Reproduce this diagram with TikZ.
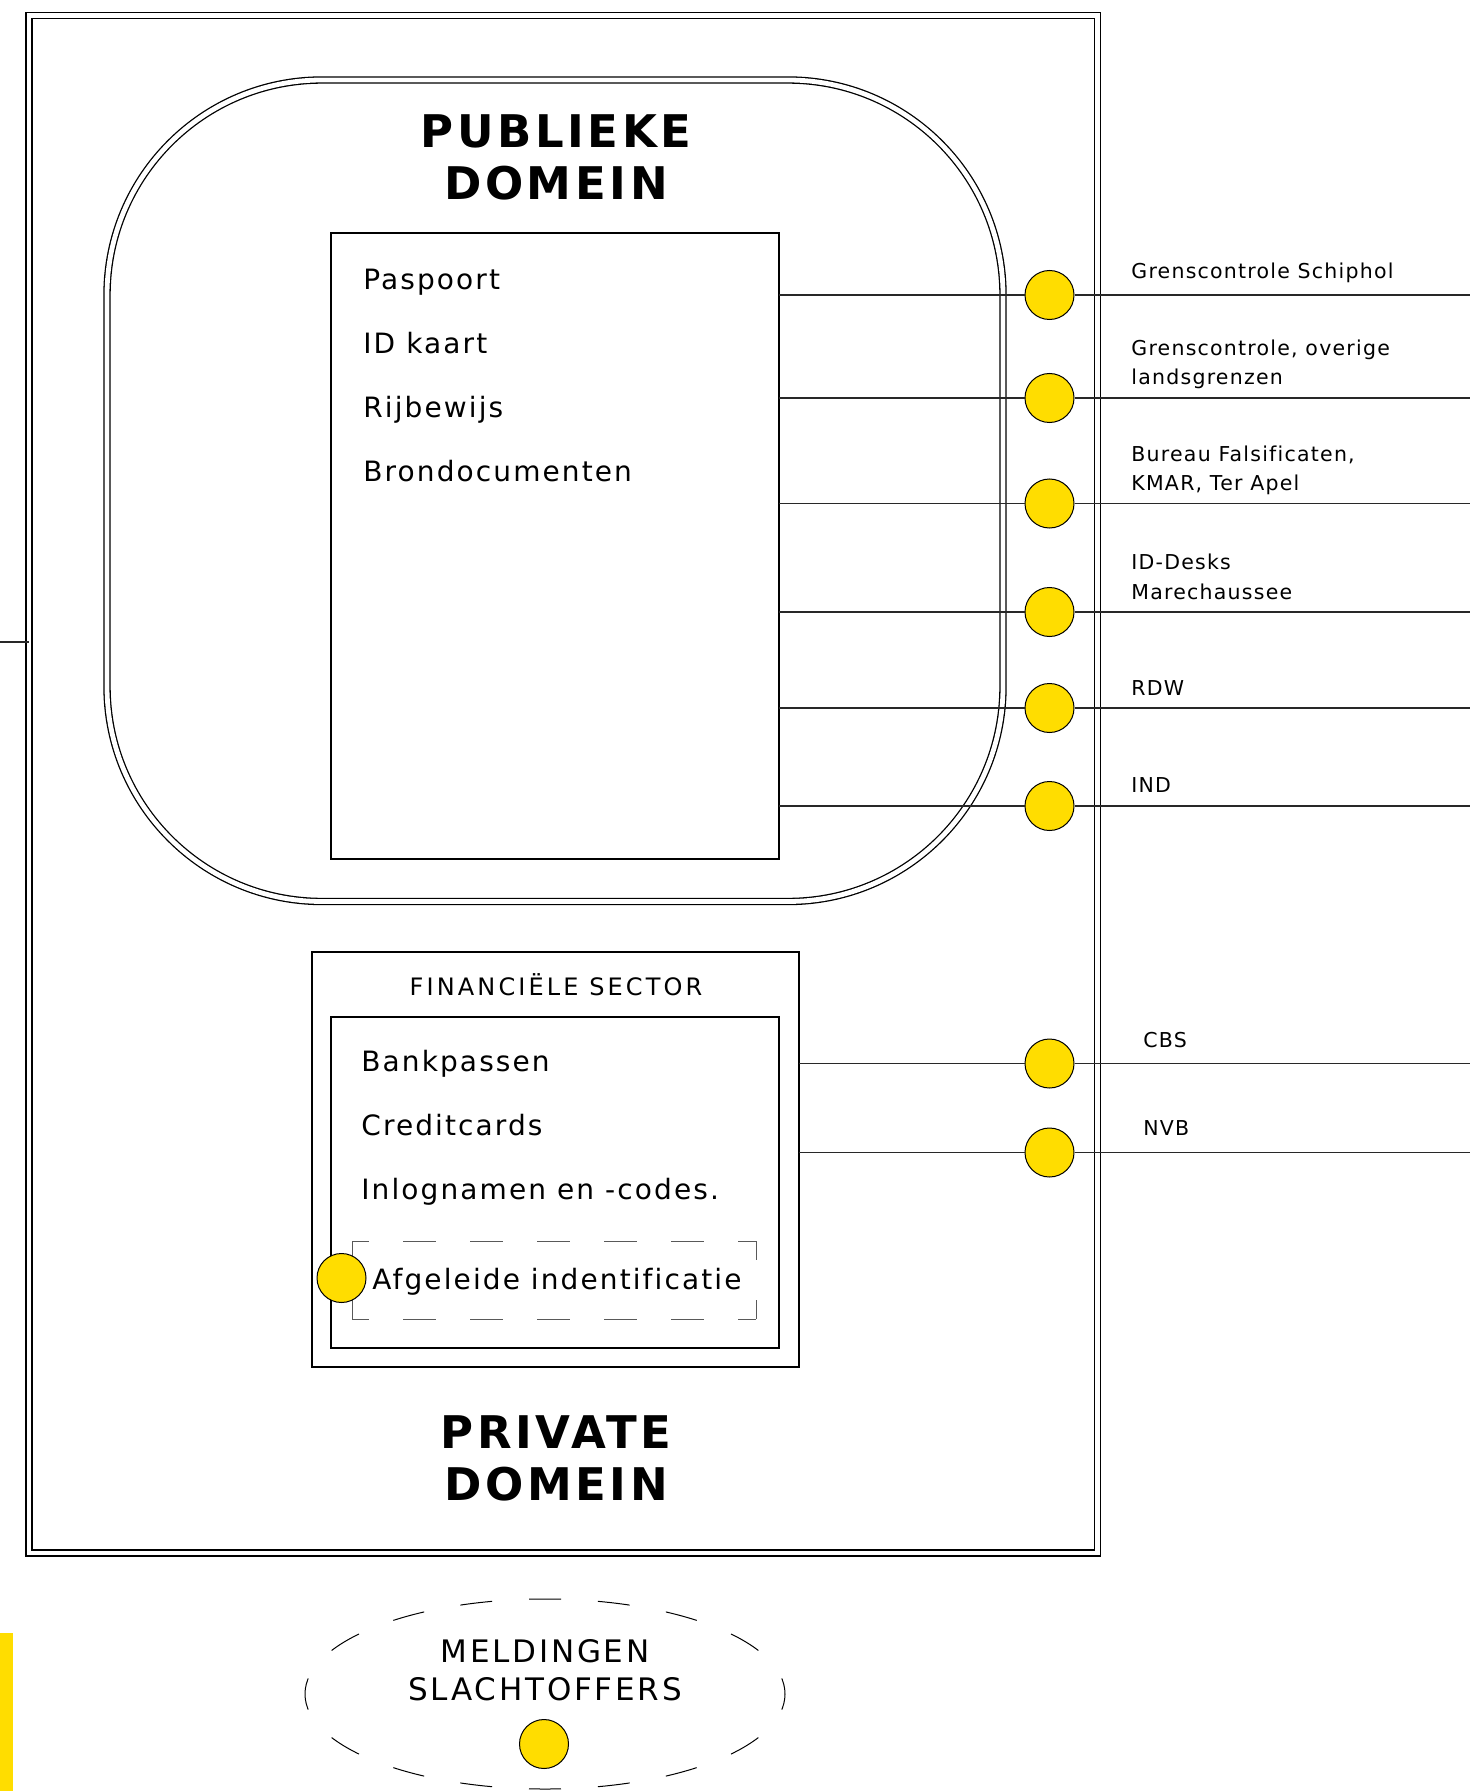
\documentclass[tikz,border=0pt]{standalone}
\usepackage{fontspec}
\setmainfont{DejaVu Sans}[LetterSpace=6, Ligatures=NoCommon]
\usepackage{tikz}
\usetikzlibrary{positioning,shapes.geometric}
\definecolor{idYellow}{RGB}{255,221,0}
\definecolor{idLine}{RGB}{40,40,40}
\tikzstyle{myFrame}=[draw, double, line width=0.65pt, double distance=2.4pt, inner sep=0pt, outer sep=0pt]
\tikzstyle{myBox}=[draw, line width=1pt, inner sep=0pt, outer sep=0pt]
\tikzstyle{myDot}=[circle, draw, fill=idYellow, line width=0.5pt, minimum size=24.5pt, inner sep=0pt]
\tikzstyle{myPath}=[draw=idLine, line width=0.75pt]
\tikzstyle{myDashH}=[draw=black!65, line width=0.5pt, dash pattern=on 16.5pt off 17pt, dash phase=8pt]
\tikzstyle{myDashV}=[draw=black!65, line width=0.5pt, dash pattern=on 19pt off 20pt, dash phase=9.5pt]
\tikzstyle{myTitle}=[font=\fontsize{22.5}{26}\selectfont\bfseries\addfontfeature{LetterSpace=8}, align=center, anchor=base, inner sep=0pt]
\tikzstyle{myList}=[font=\fontsize{14}{32}\selectfont\addfontfeature{LetterSpace=7.5}, align=left, anchor=base west, inner sep=0pt]
\tikzstyle{myLabel}=[font=\fontsize{10.25}{14.7}\selectfont, align=left, anchor=base west, inner sep=0pt]

\begin{document}
\begin{tikzpicture}[x=0.5pt, y=-0.5pt]
   \useasboundingbox (0,0) rectangle (1470,1791);

   % frames and boxes
   \node[myFrame, minimum width=534.25pt, minimum height=768.75pt] (frame) at (563.25,784.25) {};
   \node[myFrame, rounded corners=107.5pt, minimum width=448pt, minimum height=410.75pt] (pub) at (555,490.75) {};
   \node[myBox, minimum width=224pt, minimum height=313pt] (docs) at (555,546) {};
   \node[myBox, minimum width=243.5pt, minimum height=207.5pt] (fin) at (555.5,1159.5) {};
   \node[myBox, minimum width=224pt, minimum height=165.5pt] (cards) at (555,1182.5) {};
   \node[minimum width=202pt, minimum height=39pt, inner sep=0pt, outer sep=0pt] (derived) at (554,1280) {};
   \draw[myDashH] (derived.north west) -- (derived.north east);
   \draw[myDashH] (derived.south west) -- (derived.south east);
   \draw[myDashV] (derived.north west) -- (derived.south west);
   \draw[myDashV] (derived.north east) -- (derived.south east);

   % titles and lists
   \node[myTitle] (pubTitle) at (556,200) {PUBLIEKE\\DOMEIN};
   \node[myTitle] (privTitle) at (556,1500) {PRIVATE\\DOMEIN};
   \node[myList] (docList) at (363,481) {Paspoort\\ID kaart\\Rijbewijs\\Brondocumenten};
   \node[font=\fontsize{12}{14}\selectfont\addfontfeature{LetterSpace=13}, anchor=base, inner sep=0pt] (finTitle) at (556,995) {FINANCIËLE SECTOR};
   \node[myList] (cardList) at (361,1199) {Bankpassen\\Creditcards\\Inlognamen en -codes.};
   \node[myList] (derivedTxt) at (372,1289) {Afgeleide indentificatie};
   \node[myDot] (derivedDot) at (341.5,1278) {};

   % checkpoints
   \node[myDot] (schiphol) at (1049.5,295) {};
   \node[myDot] (borders) at (1049.5,398) {};
   \node[myDot] (falsif) at (1049.5,503.5) {};
   \node[myDot] (desks) at (1049.5,612) {};
   \node[myDot] (rdw) at (1049.5,708) {};
   \node[myDot] (ind) at (1049.5,806) {};
   \node[myDot] (cbs) at (1049.5,1063.5) {};
   \node[myDot] (nvb) at (1049.5,1152.5) {};

   \coordinate (schipholEnd) at (1470,295);
   \coordinate (bordersEnd) at (1470,398);
   \coordinate (falsifEnd) at (1470,503.5);
   \coordinate (desksEnd) at (1470,612);
   \coordinate (rdwEnd) at (1470,708);
   \coordinate (indEnd) at (1470,806);
   \coordinate (cbsEnd) at (1470,1063.5);
   \coordinate (nvbEnd) at (1470,1152.5);
   \coordinate (leftEnd) at (0,642);

   % Draw line from each box through its checkpoint
   \draw[myPath] (docs.east |- schiphol) -- (schiphol) -- (schipholEnd);
   \draw[myPath] (docs.east |- borders) -- (borders) -- (bordersEnd);
   \draw[myPath] (docs.east |- falsif) -- (falsif) -- (falsifEnd);
   \draw[myPath] (docs.east |- desks) -- (desks) -- (desksEnd);
   \draw[myPath] (docs.east |- rdw) -- (rdw) -- (rdwEnd);
   \draw[myPath] (docs.east |- ind) -- (ind) -- (indEnd);
   \draw[myPath] (fin.east |- cbs) -- (cbs) -- (cbsEnd);
   \draw[myPath] (fin.east |- nvb) -- (nvb) -- (nvbEnd);
   \draw[myPath] (leftEnd) -- (leftEnd -| frame.west);

   \node[myLabel] (schipholTxt) at (1131,278.7) {Grenscontrole Schiphol};
   \node[myLabel] (bordersTxt) at (1131,385) {Grenscontrole, overige\\landsgrenzen};
   \node[myLabel] (falsifTxt) at (1131,490.7) {Bureau Falsificaten,\\KMAR, Ter Apel};
   \node[myLabel] (desksTxt) at (1131,599) {ID-Desks\\Marechaussee};
   \node[myLabel] (rdwTxt) at (1131,695) {RDW};
   \node[myLabel] (indTxt) at (1131,792) {IND};
   \node[myLabel] (cbsTxt) at (1143,1047) {CBS};
   \node[myLabel] (nvbTxt) at (1143,1135) {NVB};

   % reports
   \node[ellipse, draw, line width=0.5pt, dash pattern=on 16pt off 18.45pt, dash phase=8pt, minimum width=240pt, minimum height=95pt, inner sep=0pt] (reportsRing) at (545,1694) {};
   \node[font=\fontsize{15.5}{19}\selectfont\addfontfeature{LetterSpace=9}, align=center, anchor=base, inner sep=0pt] (reports) at (545,1700) {MELDINGEN\\SLACHTOFFERS};
   \node[myDot] (reportsDot) at (544,1744) {};
   \fill[idYellow] (0,1633) rectangle (13,1791);

\end{tikzpicture}
\end{document}
